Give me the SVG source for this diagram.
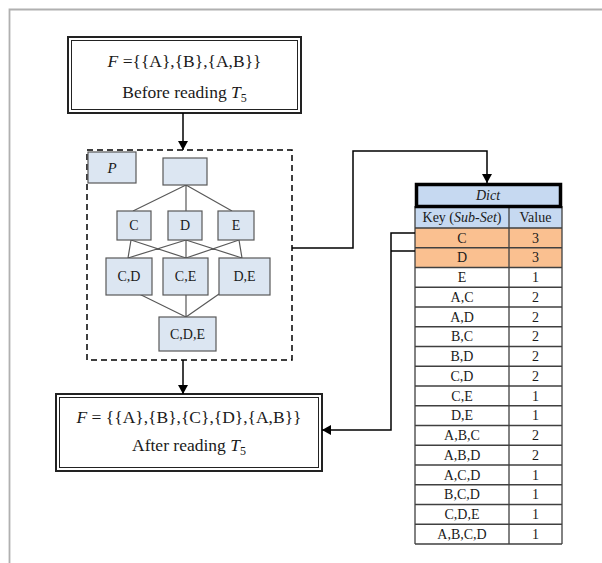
<svg xmlns="http://www.w3.org/2000/svg" width="602" height="563" viewBox="0 0 602 563">
<defs>
<marker id="ah" markerWidth="9" markerHeight="10" refX="9" refY="5" orient="auto" markerUnits="userSpaceOnUse">
<path d="M0,0 L9,5 L0,10 z" fill="#000"/>
</marker>
</defs>
<style>
.t{font-family:"Liberation Serif","Times New Roman",serif;fill:#1a1a1a;text-anchor:middle}
.big{font-size:17.5px}
.n{font-size:14px}
.it{font-style:italic}
.nd{fill:#dce6f2;stroke:#595959;stroke-width:1.2}
.ln{stroke:#595959;stroke-width:1.2;fill:none}
.outer{fill:#fff;stroke:#222;stroke-width:2}
.inner{fill:none;stroke:#222;stroke-width:1}
.con{stroke:#000;stroke-width:1.5;fill:none}
.grid{stroke:#404040;stroke-width:1.3;fill:none}
.frame{stroke:#b0b0b0;stroke-width:1.8;fill:none}
</style>
<rect width="602" height="563" fill="#fff"/>
<path class="frame" d="M602,9.5 H9.5 V563"/>

<g id="before">
<rect class="outer" x="68" y="37" width="233" height="76"/>
<rect class="inner" x="71.5" y="40.5" width="226" height="69"/>
<text class="t big" x="184.5" y="67"><tspan class="it">F</tspan> ={{A},{B},{A,B}}</text>
<text class="t big" x="184.5" y="98">Before reading <tspan class="it">T</tspan><tspan font-size="12" dy="4">5</tspan></text>
</g>

<g id="P">
<rect x="87" y="150" width="205" height="210" fill="none" stroke="#000" stroke-width="1.5" stroke-dasharray="6,4"/>
<g id="lattice-lines">
<path class="ln" d="M186,185 L133,211 M186,185 L186,211 M186,185 L232,211"/>
<path class="ln" d="M131,240 L128,258 M131,240 L186,258 M186,240 L128,258 M186,240 L186,258 M186,240 L242,258 M239,240 L186,258 M239,240 L242,258"/>
<path class="ln" d="M127,288 L186,317 M186,295 L186,317 M219,294 L186,317"/>
</g>
<g id="p-label"><rect class="nd" x="88" y="152" width="48" height="31"/><text class="t it" font-size="15" x="112" y="173">P</text></g>
<g id="root"><rect class="nd" x="163" y="158" width="44" height="27"/></g>
<g id="nC"><rect class="nd" x="117" y="211" width="34" height="29"/><text class="t n" x="134" y="230">C</text></g>
<g id="nD"><rect class="nd" x="168" y="211" width="34" height="29"/><text class="t n" x="185" y="230">D</text></g>
<g id="nE"><rect class="nd" x="218" y="211" width="36" height="29"/><text class="t n" x="236" y="230">E</text></g>
<g id="nCD"><rect class="nd" x="106" y="258" width="46" height="37"/><text class="t n" x="129" y="281">C,D</text></g>
<g id="nCE"><rect class="nd" x="163" y="258" width="45" height="37"/><text class="t n" x="185.5" y="281">C,E</text></g>
<g id="nDE"><rect class="nd" x="219" y="258" width="51" height="37"/><text class="t n" x="244.5" y="281">D,E</text></g>
<g id="nCDE"><rect class="nd" x="159" y="317" width="57" height="34"/><text class="t n" x="187.5" y="339">C,D,E</text></g>
</g>

<g id="after">
<rect class="outer" x="56" y="394" width="266" height="77"/>
<rect class="inner" x="59.5" y="397.5" width="259" height="70"/>
<text class="t big" x="189" y="423"><tspan class="it">F</tspan> = {{A},{B},{C},{D},{A,B}}</text>
<text class="t big" x="189" y="451">After reading <tspan class="it">T</tspan><tspan font-size="12" dy="4">5</tspan></text>
</g>

<g id="dict">
<rect x="415" y="206" width="147" height="22" fill="#c6d9f1"/>
<rect x="415" y="228" width="147" height="39.5" fill="#fac090"/>
<path class="grid" d="M415,206 V544 M509,206 V544 M562,206 V544 M415,228 H562 M415,247.75 H562 M415,267.5 H562 M415,287.25 H562 M415,307 H562 M415,326.75 H562 M415,346.5 H562 M415,366.25 H562 M415,386 H562 M415,405.75 H562 M415,425.5 H562 M415,445.25 H562 M415,465 H562 M415,484.75 H562 M415,504.5 H562 M415,524.25 H562 M415,544 H562"/>
<rect x="416.5" y="184.5" width="144" height="22" fill="#c6d9f1" stroke="#000" stroke-width="3.5"/>
<text class="t n it" x="488" y="200">Dict</text>
<text class="t n" x="462" y="222">Key (<tspan class="it">Sub-Set</tspan>)</text>
<text class="t n" x="535.5" y="222">Value</text>
<g class="t n">
<text x="462" y="242.5">C</text><text x="535.5" y="242.5">3</text>
<text x="462" y="262.25">D</text><text x="535.5" y="262.25">3</text>
<text x="462" y="282">E</text><text x="535.5" y="282">1</text>
<text x="462" y="301.75">A,C</text><text x="535.5" y="301.75">2</text>
<text x="462" y="321.5">A,D</text><text x="535.5" y="321.5">2</text>
<text x="462" y="341.25">B,C</text><text x="535.5" y="341.25">2</text>
<text x="462" y="361">B,D</text><text x="535.5" y="361">2</text>
<text x="462" y="380.75">C,D</text><text x="535.5" y="380.75">2</text>
<text x="462" y="400.5">C,E</text><text x="535.5" y="400.5">1</text>
<text x="462" y="420.25">D,E</text><text x="535.5" y="420.25">1</text>
<text x="462" y="440">A,B,C</text><text x="535.5" y="440">2</text>
<text x="462" y="459.75">A,B,D</text><text x="535.5" y="459.75">2</text>
<text x="462" y="479.5">A,C,D</text><text x="535.5" y="479.5">1</text>
<text x="462" y="499.25">B,C,D</text><text x="535.5" y="499.25">1</text>
<text x="462" y="519">C,D,E</text><text x="535.5" y="519">1</text>
<text x="462" y="538.75">A,B,C,D</text><text x="535.5" y="538.75">1</text>
</g>
</g>

<g id="connectors">
<path class="con" d="M183,113 V150" marker-end="url(#ah)"/>
<path class="con" d="M183,360 V394" marker-end="url(#ah)"/>
<path class="con" d="M292,248 H353 V151 H487 V183" marker-end="url(#ah)"/>
<path class="con" d="M415,233 H391 V430 H322" marker-end="url(#ah)"/>
<path class="con" d="M415,251 H391"/>
</g>
</svg>
